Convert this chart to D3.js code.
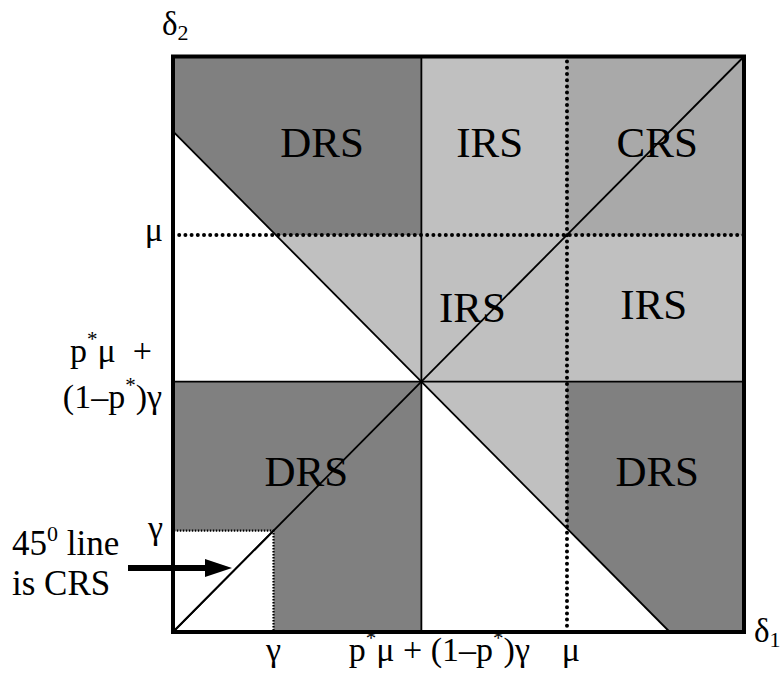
<!DOCTYPE html>
<html>
<head>
<meta charset="utf-8">
<script src="https://cdn.jsdelivr.net/npm/d3@7"></script>
<style>
  html, body { margin: 0; padding: 0; background: #fff; }
</style>
</head>
<body>
<svg id="chart" width="781" height="673" font-family="Liberation Serif, Times New Roman, DejaVu Serif, serif"></svg>
<script>
// ---- data ----
const tickKeys = ["gamma", "pool", "mu"];
const tickValues = [0.176, 0.435, 0.69];        // γ, p*μ+(1−p*)γ, μ (share of axis range)
const regionNames = ["DRS", "IRS", "CRS", "IRS", "IRS", "DRS", "DRS"];
const regionKinds = ["dark", "light", "mid", "light", "light", "dark", "dark"];
const axisNames = ["δ1", "δ2"];

// ---- setup ----
const FONT = "Liberation Serif, Times New Roman, DejaVu Serif, serif";
const svg = d3.select("#chart");
const x = d3.scaleLinear().domain([0, 1]).range([173, 744]);
const y = d3.scaleLinear().domain([0, 1]).range([632, 56.5]);
const g = tickValues[0], m = tickValues[1], u = tickValues[2], s = 2 * m;
const fill = { dark: "#808080", light: "#c0c0c0", mid: "#a9a9a9", white: "#ffffff" };
const line = d3.line().x(d => x(d[0])).y(d => y(d[1]));
const poly = pts => line(pts) + "Z";

// region polygons derived from thresholds
const polys = [
  { pts: [[0,1],[m,1],[m,u],[s-u,u],[0,s]], c: "dark" },
  { pts: [[s-u,u],[m,u],[m,m]], c: "light" },
  { pts: [[m,u],[u,u],[u,1],[m,1]], c: "light" },
  { pts: [[u,u],[1,u],[1,1],[u,1]], c: "mid" },
  { pts: [[m,m],[1,m],[1,u],[m,u]], c: "light" },
  { pts: [[0,0],[m,0],[m,m],[0,m]], c: "dark" },
  { pts: [[0,0],[g,0],[g,g],[0,g]], c: "white" },
  { pts: [[m,m],[u,m],[u,s-u]], c: "light" },
  { pts: [[u,m],[1,m],[1,0],[s,0],[u,s-u]], c: "dark" }
];
svg.append("g").selectAll("path").data(polys).join("path")
  .attr("d", d => poly(d.pts)).attr("fill", d => fill[d.c]).attr("stroke", "none");

// solid lines
const solid = [
  [[0,0],[1,1]],
  [[0,s],[s,0]],
  [[m,0],[m,1]],
  [[0,m],[1,m]]
];
svg.append("g").selectAll("path").data(solid).join("path")
  .attr("d", d => line(d)).attr("stroke", "#000").attr("stroke-width", 1.8).attr("fill", "none");

// dotted μ lines
const dotted = [ [[u,0],[u,1]], [[0,u],[1,u]] ];
svg.append("g").selectAll("path").data(dotted).join("path")
  .attr("d", d => line(d)).attr("stroke", "#000").attr("stroke-width", 4)
  .attr("stroke-linecap", "round").attr("stroke-dasharray", "0,6.2").attr("fill", "none");

// small γ square, dotted
svg.append("path").attr("d", poly([[0,0],[g,0],[g,g],[0,g]]))
  .attr("fill", "none").attr("stroke", "#000").attr("stroke-width", 2.2)
  .attr("stroke-dasharray", "1.5,1.5");
svg.append("path").attr("d", line([[0,0],[g,g]])).attr("stroke", "#000").attr("stroke-width", 1.8);

// outer border
svg.append("rect").attr("x", x(0)).attr("y", y(1)).attr("width", x(1) - x(0)).attr("height", y(0) - y(1))
  .attr("fill", "none").attr("stroke", "#000").attr("stroke-width", 4);

// region label anchors (data coords, derived from thresholds)
const labelPos = [
  [m * 0.6, (1 + u) / 2 - 0.02],
  [(m + u) / 2 - 0.008, (1 + u) / 2 - 0.02],
  [(u + 1) / 2 + 0.003, (1 + u) / 2 - 0.02],
  [(m + u) / 2 - 0.038, (m + u) / 2 - 0.023],
  [(u + 1) / 2 - 0.003, (m + u) / 2 - 0.018],
  [m / 2 + 0.016, m / 2 + 0.036],
  [(u + 1) / 2 + 0.003, m / 2 + 0.037]
];
svg.append("g").selectAll("text").data(regionNames).join("text")
  .attr("font-family", FONT)
  .attr("x", (d, i) => x(labelPos[i][0]))
  .attr("y", (d, i) => y(labelPos[i][1]))
  .attr("text-anchor", "middle").attr("font-size", 43).text(d => d);

// axis names δ1, δ2
function sub(xp, yp, main, subs) {
  const t = svg.append("text").attr("font-family", FONT).attr("x", xp).attr("y", yp).attr("font-size", 33);
  t.append("tspan").text(main);
  t.append("tspan").attr("font-size", 22).attr("dy", 5).text(subs);
}
sub(x(1) + 10, y(0) + 10, axisNames[0][0], axisNames[0][1]);
sub(162, 35, axisNames[1][0], axisNames[1][1]);

// tick labels
const fs = 34;
function txt(xp, yp, anchor) {
  return svg.append("text").attr("font-family", FONT).attr("x", xp).attr("y", yp)
    .attr("text-anchor", anchor).attr("font-size", fs);
}
function star(t) { t.append("tspan").attr("font-size", 21).attr("dy", -16).text("*"); }
function unstar(t, s) { t.append("tspan").attr("dy", 16).text(s); }

txt(x(g), 661, "middle").text("γ");
txt(x(u) + 4, 661, "middle").text("μ");
{
  const t = txt(x(m) + 18, 661, "middle");
  t.append("tspan").text("p");
  star(t);
  unstar(t, "μ + (1–p");
  star(t);
  unstar(t, ")γ");
}
txt(163, y(u) + 6, "end").text("μ");
txt(163, y(g) + 8, "end").text("γ");
{
  const t = txt(152, 362, "end");
  t.append("tspan").text("p");
  star(t);
  unstar(t, "μ\u00a0\u00a0+");
}
{
  const t = txt(162, 408, "end");
  t.append("tspan").text("(1–p");
  star(t);
  unstar(t, ")γ");
}

// annotation: 45° line is CRS
{
  const t = svg.append("text").attr("font-family", FONT).attr("x", 12).attr("y", 555).attr("font-size", 35);
  t.append("tspan").text("45");
  t.append("tspan").attr("font-size", 22).attr("dy", -14).text("0");
  t.append("tspan").attr("dy", 14).text(" line");
  svg.append("text").attr("font-family", FONT).attr("x", 12).attr("y", 595).attr("font-size", 35).text("is CRS");
}
// arrow
const ay = 568;
svg.append("path")
  .attr("d", `M128,${ay-3}L205,${ay-3}L205,${ay-9}L232,${ay}L205,${ay+9}L205,${ay+3}L128,${ay+3}Z`)
  .attr("fill", "#000");
</script>
</body>
</html>
